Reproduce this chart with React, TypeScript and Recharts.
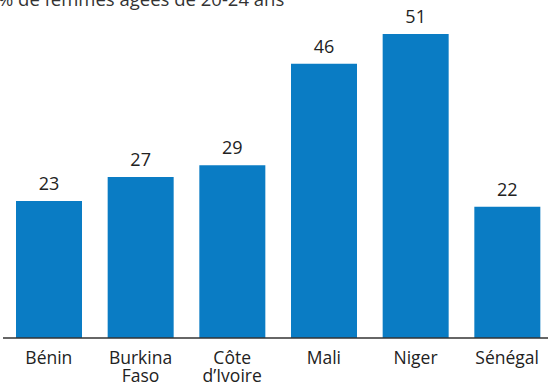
import React from "react";
import { BarChart, Bar, XAxis, YAxis, LabelList } from "recharts";

const countries = ["Bénin", "Burkina\nFaso", "Côte\nd’Ivoire", "Mali", "Niger", "Sénégal"];
const values = [23, 27, 29, 46, 51, 22];
const title = "% de femmes âgées de 20-24 ans";

const data = countries.map((c, i) => ({ name: c, value: values[i] }));
const FONT = "'Open Sans', 'Noto Sans', sans-serif";

const Tick = (props: any) => {
  const { x, y, payload } = props;
  const lines = String(payload.value).split("\n");
  return (
    <g transform={`translate(${x},${y})`}>
      {lines.map((l, i) => (
        <text key={i} x={0} y={12 + i * 18} dy="0.35em" textAnchor="middle" fill="#222" fontSize={17.5} fontFamily={FONT}>
          {l}
        </text>
      ))}
    </g>
  );
};

export default function App() {
  return (
    <div style={{ position: "absolute", left: 0, top: 0, width: 548, height: 384, overflow: "hidden", background: "#fff" }}>
      <BarChart width={553} height={384} data={data} margin={{ top: 34, right: 0, left: 3, bottom: 0 }} style={{ overflow: "visible" }}>
        <text x={-2} y={6} fill="#333" fontSize={18.5} fontFamily={FONT}>
          {title}
        </text>
        <XAxis dataKey="name" height={46} tick={<Tick />} tickLine={false} axisLine={{ stroke: "#333", strokeWidth: 1.5 }} interval={0} />
        <YAxis hide domain={[0, 51]} />
        <Bar dataKey="value" fill="#0a7cc4" barSize={66} isAnimationActive={false}>
          <LabelList dataKey="value" position="top" offset={11} fill="#222" fontSize={18} fontFamily={FONT} />
        </Bar>
      </BarChart>
    </div>
  );
}
